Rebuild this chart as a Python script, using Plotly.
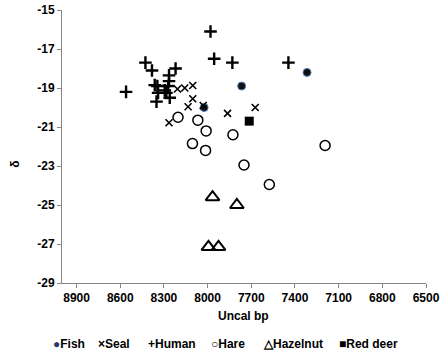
import plotly.graph_objects as go

# Data (uncal bp, delta value)
fish_x = [8024, 7766, 7317]
fish_y = [-20.0, -18.9, -18.2]

seal_x = [8207, 8157, 8102, 8102, 8134, 8265, 8030, 7863, 7673]
seal_y = [-19.05, -19.0, -18.87, -19.55, -19.96, -20.78, -19.9, -20.3, -20.0]

human_x = [7980, 7955, 7830, 7445, 8427, 8382, 8220, 8560, 8265, 8265, 8363, 8345,
           8271, 8294, 8340, 8283, 8260, 8351]
human_y = [-16.1, -17.5, -17.7, -17.7, -17.7, -18.1, -18.0, -19.2, -18.35, -18.65, -18.85, -18.9,
           -18.9, -19.12, -19.25, -19.25, -19.5, -19.7]

hare_x = [8203, 8067, 8010, 7826, 8104, 8014, 7193, 7750, 7576]
hare_y = [-20.5, -20.65, -21.2, -21.4, -21.85, -22.2, -21.95, -22.95, -23.95]

hazel_x = [7966, 7799, 7994, 7925]
hazel_y = [-24.6, -25.0, -27.15, -27.15]

deer_x = [7714]
deer_y = [-20.7]

x_ticks = [8900, 8600, 8300, 8000, 7700, 7400, 7100, 6800, 6500]
y_ticks = [-15, -17, -19, -21, -23, -25, -27, -29]

FONT = "Liberation Sans, Arial, sans-serif"

fig = go.Figure()
fig.add_trace(go.Scatter(x=fish_x, y=fish_y, mode="markers", name="Fish",
                         marker=dict(symbol="circle", size=8, color="#111111",
                                     line=dict(color="#4f81bd", width=1))))
fig.add_trace(go.Scatter(x=seal_x, y=seal_y, mode="markers", name="Seal",
                         marker=dict(symbol="x-thin", size=7, color="black",
                                     line=dict(color="black", width=1.6))))
fig.add_trace(go.Scatter(x=human_x, y=human_y, mode="markers", name="Human",
                         marker=dict(symbol="cross-thin", size=9, color="black",
                                     line=dict(color="black", width=2.4))))
fig.add_trace(go.Scatter(x=hare_x, y=hare_y, mode="markers", name="Hare",
                         marker=dict(symbol="circle-open", size=10, color="black",
                                     line=dict(color="black", width=1.5))))
fig.add_trace(go.Scatter(x=hazel_x, y=hazel_y, mode="markers", name="Hazelnut",
                         marker=dict(symbol="triangle-up-open", size=12, color="black",
                                     line=dict(color="black", width=2))))
fig.add_trace(go.Scatter(x=deer_x, y=deer_y, mode="markers", name="Red deer",
                         marker=dict(symbol="square", size=9, color="black",
                                     line=dict(color="black", width=0))))

axis_common = dict(showgrid=False, zeroline=False, showline=True, linecolor="#868686",
                   linewidth=1, ticks="outside", ticklen=4, tickcolor="#868686",
                   automargin=False,
                   tickfont=dict(family=FONT, size=12, color="black", weight="bold"))

fig.update_xaxes(range=[9000, 6500], tickvals=x_ticks,
                 ticktext=[str(v) for v in x_ticks], **axis_common)
fig.update_yaxes(range=[-29, -15], tickvals=y_ticks,
                 ticktext=[str(v) for v in y_ticks], **axis_common)

annotations = [
    dict(text="<b>Uncal bp</b>", x=0.498, y=-0.121, xref="paper", yref="paper",
         showarrow=False, font=dict(family=FONT, size=12, color="black"),
         xanchor="center", yanchor="middle"),
    dict(text="<b>δ</b>", x=-0.129, y=0.433, xref="paper", yref="paper",
         showarrow=False, textangle=-90, font=dict(family=FONT, size=12, color="black"),
         xanchor="center", yanchor="middle"),
]

legend_items = [
    ("<span style='color:#1f3b6e'>●</span>Fish", 51),
    ("×Seal", 96),
    ("+Human", 146),
    ("○Hare", 209),
    ("△Hazelnut", 261),
    ("■Red deer", 337),
]
L, W = 62, 446 - 62 - 20.3
for txt, px in legend_items:
    annotations.append(dict(text="<b>" + txt + "</b>", x=(px - L) / W, y=-0.225,
                            xref="paper", yref="paper", showarrow=False,
                            xanchor="left", yanchor="middle",
                            font=dict(family=FONT, size=12, color="black")))

fig.update_layout(
    width=446, height=355,
    margin=dict(l=62, r=20.3, t=10, b=71.5, autoexpand=False),
    paper_bgcolor="white", plot_bgcolor="white",
    showlegend=False,
    annotations=annotations,
)

fig.write_html("out.html", config={"displayModeBar": False},
               post_script="document.body.style.margin='0';")
